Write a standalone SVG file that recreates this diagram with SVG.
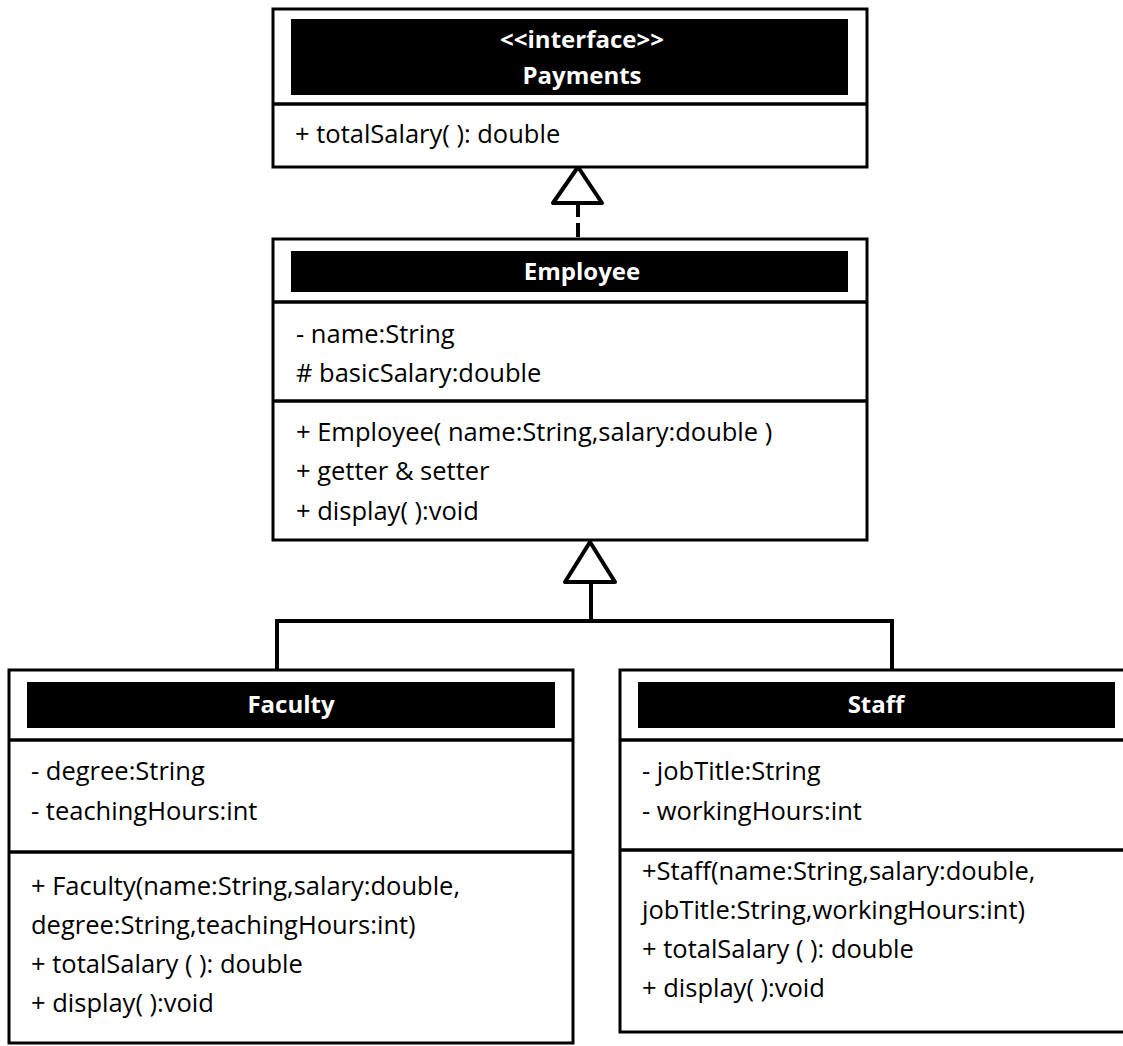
<svg xmlns="http://www.w3.org/2000/svg" width="1123" height="1046" viewBox="0 0 1123 1046">
<style>
.box{fill:#fff;stroke:#000;stroke-width:3}
.hdr{fill:#000}
.div{stroke:#000;stroke-width:3.5}
.t{font-family:"Open Sans","Noto Sans",sans-serif;font-size:25.5px;fill:#000}
.h{font-family:"Open Sans","Noto Sans",sans-serif;font-size:24px;font-weight:bold;fill:#fff;text-anchor:middle}
.c{fill:none;stroke:#000;stroke-width:4}
.tri{fill:#fff;stroke:#000;stroke-width:4;stroke-linejoin:round}
</style>
<rect width="1123" height="1046" fill="#fff"/>
<g id="connectors">
<line class="c" x1="578" y1="203" x2="578" y2="239" stroke-dasharray="14,6"/>
<polygon class="tri" points="578,167 553,203 602,203"/>
<polyline class="c" points="277,670 277,621 892,621 892,670"/>
<line class="c" x1="591" y1="582" x2="591" y2="621"/>
<polygon class="tri" points="590,542 565,582 615,582"/>
</g>
<g id="payments">
<rect class="box" x="273" y="9" width="594" height="158"/>
<rect class="hdr" x="291" y="19" width="557" height="76"/>
<line class="div" x1="273" y1="104" x2="867" y2="104"/>
<text class="h" x="582" y="48">&lt;&lt;interface&gt;&gt;</text>
<text class="h" x="582" y="84">Payments</text>
<text class="t" x="295" y="143">+ totalSalary( ): double</text>
</g>
<g id="employee">
<rect class="box" x="273" y="239" width="594" height="301"/>
<rect class="hdr" x="291" y="251" width="557" height="41"/>
<line class="div" x1="273" y1="302" x2="867" y2="302"/>
<line class="div" x1="273" y1="401" x2="867" y2="401"/>
<text class="h" x="582" y="280">Employee</text>
<text class="t" x="296" y="343">- name:String</text>
<text class="t" x="296" y="382">#&#160;basicSalary:double</text>
<text class="t" x="296" y="441">+ Employee( name:String,salary:double )</text>
<text class="t" x="296" y="480">+ getter &amp; setter</text>
<text class="t" x="296" y="520">+ display( ):void</text>
</g>
<g id="faculty">
<rect class="box" x="9" y="670" width="564" height="373"/>
<rect class="hdr" x="27" y="682" width="528" height="46"/>
<line class="div" x1="9" y1="740" x2="573" y2="740"/>
<line class="div" x1="9" y1="852" x2="573" y2="852"/>
<text class="h" x="291" y="713">Faculty</text>
<text class="t" x="31" y="780">- degree:String</text>
<text class="t" x="31" y="820">- teachingHours:int</text>
<text class="t" x="31" y="895">+ Faculty(name:String,salary:double,</text>
<text class="t" x="31" y="934">degree:String,teachingHours:int)</text>
<text class="t" x="31" y="973">+ totalSalary ( ): double</text>
<text class="t" x="31" y="1012">+ display( ):void</text>
</g>
<g id="staff">
<rect class="box" x="620" y="670" width="506" height="362"/>
<rect class="hdr" x="638" y="682" width="477" height="46"/>
<line class="div" x1="620" y1="740" x2="1126" y2="740"/>
<line class="div" x1="620" y1="850" x2="1126" y2="850"/>
<text class="h" x="876" y="713">Staff</text>
<text class="t" x="642" y="780">- jobTitle:String</text>
<text class="t" x="642" y="820">- workingHours:int</text>
<text class="t" x="642" y="880">+Staff(name:String,salary:double,</text>
<text class="t" x="642" y="919">jobTitle:String,workingHours:int)</text>
<text class="t" x="642" y="958">+ totalSalary ( ): double</text>
<text class="t" x="642" y="997">+ display( ):void</text>
</g>
</svg>
